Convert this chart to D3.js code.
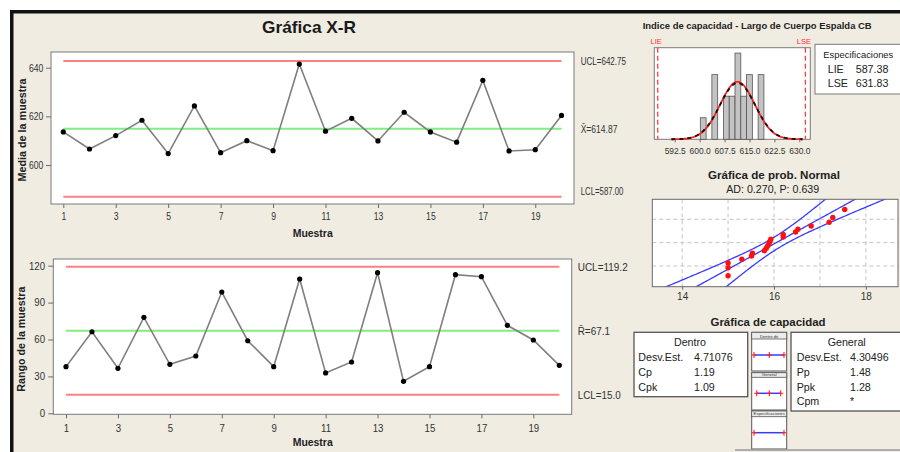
<!DOCTYPE html>
<html>
<head>
<meta charset="utf-8">
<script src="https://cdn.jsdelivr.net/npm/d3@7"></script>
<style>
  html, body { margin: 0; padding: 0; background: #ffffff; }
  svg { display: block; font-family: "Liberation Sans", Arial, sans-serif; }
</style>
</head>
<body>
<svg id="chart" width="900" height="452"></svg>
<script>
// ---------------- data ----------------
const samples = [1, 2, 3, 4, 5, 6, 7, 8, 9, 10, 11, 12, 13, 14, 15, 16, 17, 18, 19, 20];
const sampleTicks = [1, 3, 5, 7, 9, 11, 13, 15, 17, 19];

// subgroup means (X-bar chart)
const sampleMeans = [613.6, 606.6, 612.1, 618.4, 604.7, 624.3, 605.1, 610.0, 605.9, 641.5,
                     613.9, 619.2, 609.9, 621.7, 613.6, 609.4, 634.8, 605.8, 606.3, 620.4];
const xbarLimitNames = ["UCL=642.75", "X\u0304=614.87", "LCL=587.00"];
const xbarLimitValues = [642.75, 614.87, 587.00];
const xbarTicks = [600, 620, 640];

// subgroup ranges (R chart)
const sampleRanges = [37.9, 66.3, 36.6, 78.0, 39.8, 46.6, 98.6, 59.0, 37.9, 109.2,
                      32.8, 41.7, 114.3, 26.0, 37.9, 112.7, 111.1, 71.5, 59.6, 39.0];
const rLimitNames = ["UCL=119.2", "R\u0304=67.1", "LCL=15.0"];
const rLimitValues = [119.2, 67.1, 15.0];
const rTicks = [0, 30, 60, 90, 120];

// capability histogram
const histEdges = [600.2, 601.94, 603.68, 605.42, 607.16, 608.9, 610.64, 612.38, 614.12, 615.86, 617.6, 619.34];
const histCounts = [1, 0, 3, 0, 2, 2, 4, 2, 3, 0, 3];
const histTicks = [592.5, 600.0, 607.5, 615.0, 622.5, 630.0];
const specNames = ["LIE", "LSE"];
const specValues = [587.38, 631.83];
const fitMean = [611.4, 611.4];     // within (red), overall (black dashed)
const fitSd = [5.2, 5.3];

// normal probability plot
const probValues = [15.0, 15.0, 15.0, 15.3, 15.51, 15.53, 15.79, 15.83, 15.86, 15.89,
                    15.91, 15.93, 16.2, 16.2, 16.47, 16.52, 16.81, 17.2, 17.28, 17.54];
const probTicks = [14, 15, 16, 17, 18];
const probTickLabels = [14, 16, 18];
const probGridPct = [10, 50, 90];
const probFitMean = 16.05;
const probFitSd = 0.72;
const probBandHalf = 0.25;
const probStats = "AD: 0.270, P: 0.639";

// capability statistics
const withinLabels = ["Desv.Est.", "Cp", "Cpk"];
const withinValues = ["4.71076", "1.19", "1.09"];
const overallLabels = ["Desv.Est.", "Pp", "Ppk", "Cpm"];
const overallValues = ["4.30496", "1.48", "1.28", "*"];

// capability plot intervals
const capRows = ["Dentro de", "General", "Especificaciones"];
const capLow = [587.4, 591.4, 587.38];
const capMid = [610.1, 610.1, null];
const capHigh = [631.8, 626.9, 631.83];

// ---------------- helpers ----------------
const svg = d3.select("#chart");
const INK = "#222";

function label(g, x, y, s, o = {}) {
  const t = g.append("text")
    .attr("x", x).attr("y", y).text(s)
    .attr("font-size", o.size || 10.5)
    .attr("font-weight", o.bold ? "bold" : null)
    .attr("text-anchor", o.anchor || "start")
    .attr("fill", o.fill || INK);
  if (o.width) t.attr("textLength", o.width).attr("lengthAdjust", "spacingAndGlyphs");
  if (o.rotate) t.attr("transform", `rotate(-90,${x},${y})`);
  return t;
}

function styleAxis(sel, sx, size) {
  sel.select(".domain").remove();
  sel.selectAll(".tick line").attr("stroke", "#6a6a6a");
  sel.selectAll(".tick text")
    .attr("fill", "#333")
    .attr("font-size", size || 10.5)
    .attr("font-family", '"Liberation Sans", Arial, sans-serif')
    .attr("transform", `scale(${sx},1)`);
}

function qnorm(p) {
  const a = [-3.969683028665376e+01, 2.209460984245205e+02, -2.759285104469687e+02, 1.383577518672690e+02, -3.066479806614716e+01, 2.506628277459239e+00];
  const b = [-5.447609879822406e+01, 1.615858368580409e+02, -1.556989798598866e+02, 6.680131188771972e+01, -1.328068155288572e+01];
  const c = [-7.784894002430293e-03, -3.223964580411365e-01, -2.400758277161838e+00, -2.549732539343734e+00, 4.374664141464968e+00, 2.938163982698783e+00];
  const d = [7.784695709041462e-03, 3.224671290700398e-01, 2.445134137142996e+00, 3.754408661907416e+00];
  const pl = 0.02425, ph = 1 - pl;
  let q, r;
  if (p < pl) {
    q = Math.sqrt(-2 * Math.log(p));
    return (((((c[0]*q+c[1])*q+c[2])*q+c[3])*q+c[4])*q+c[5]) / ((((d[0]*q+d[1])*q+d[2])*q+d[3])*q+1);
  }
  if (p <= ph) {
    q = p - 0.5; r = q * q;
    return (((((a[0]*r+a[1])*r+a[2])*r+a[3])*r+a[4])*r+a[5])*q / (((((b[0]*r+b[1])*r+b[2])*r+b[3])*r+b[4])*r+1);
  }
  q = Math.sqrt(-2 * Math.log(1 - p));
  return -(((((c[0]*q+c[1])*q+c[2])*q+c[3])*q+c[4])*q+c[5]) / ((((d[0]*q+d[1])*q+d[2])*q+d[3])*q+1);
}

// ---------------- frame ----------------
svg.append("rect").attr("width", 900).attr("height", 452).attr("fill", "#ffffff");
svg.append("rect").attr("x", 10).attr("y", 10).attr("width", 890).attr("height", 442).attr("fill", "#111");
svg.append("rect").attr("x", 13.5).attr("y", 13.5).attr("width", 886.5).attr("height", 438.5).attr("fill", "#f0ece2");

label(svg, 309, 32.5, "Gráfica X-R", { size: 17, bold: true, anchor: "middle", width: 94, fill: "#1a1a1a" });

// ---------------- control chart drawer ----------------
function controlChart(box, xRange, yDomain, yRange, values, limitValues, limitNames, yTicks, o) {
  const g = svg.append("g");
  g.append("rect").attr("x", box.x).attr("y", box.y).attr("width", box.w).attr("height", box.h)
    .attr("fill", "#ffffff").attr("stroke", "#7a7a7a").attr("stroke-width", 1);

  const x = d3.scaleLinear().domain([samples[0], samples[samples.length - 1]]).range(xRange);
  const y = d3.scaleLinear().domain(yDomain).range(yRange);

  g.append("g").attr("transform", `translate(0,${box.y + box.h})`)
    .call(d3.axisBottom(x).tickValues(sampleTicks).tickSize(4).tickPadding(o.xPad))
    .call(styleAxis, o.sx);
  g.append("g").attr("transform", `translate(${box.x},0)`)
    .call(d3.axisLeft(y).tickValues(yTicks).tickSize(5).tickPadding(o.yPad))
    .call(styleAxis, o.sx);

  const x0 = x(samples[0]), x1 = x(samples[samples.length - 1]);
  const limitColors = ["#ff8080", "#80ee80", "#ff8080"];
  limitValues.forEach((v, i) => {
    g.append("line").attr("x1", x0).attr("x2", x1).attr("y1", y(v)).attr("y2", y(v))
      .attr("stroke", limitColors[i]).attr("stroke-width", 2);
    label(g, o.labelX, y(v) + 4 + o.labelDy[i], limitNames[i],
      { size: 10.5, width: o.labelW[i], fill: "#333" });
  });

  const line = d3.line().x((d, i) => x(samples[i])).y(d => y(d));
  g.append("path").datum(values).attr("d", line)
    .attr("fill", "none").attr("stroke", "#7f7f7f").attr("stroke-width", 1.6);
  g.selectAll("circle.pt").data(values).join("circle").attr("class", "pt")
    .attr("cx", (d, i) => x(samples[i])).attr("cy", d => y(d)).attr("r", 2.6).attr("fill", "#000");

  label(g, 312.7, o.titleY, "Muestra", { size: 10.5, bold: true, anchor: "middle", width: 40 });
  label(g, 25.5, box.y + box.h / 2 + o.yTitleDy, o.yTitle, { size: 10.5, bold: true, anchor: "middle", rotate: true, width: o.yTitleW });
}

controlChart({ x: 51, y: 52, w: 523, h: 152 }, [63.3, 561.5],
  [xbarLimitValues[2], xbarLimitValues[0]], [196.7, 61],
  sampleMeans, xbarLimitValues, xbarLimitNames, xbarTicks,
  { sx: 0.82, xPad: 5, yPad: 4.4, labelX: 580.7, labelDy: [0, 0, -6], labelW: [45.3, 36.7, 42.7],
    titleY: 236.5, yTitle: "Media de la muestra", yTitleW: 103, yTitleDy: 2 });

controlChart({ x: 53.3, y: 259, w: 518.4, h: 155.3 }, [66, 559.3],
  [0, rTicks[rTicks.length - 1]], [413.3, 265.7],
  sampleRanges, rLimitValues, rLimitNames, rTicks,
  { sx: 0.92, xPad: 6.5, yPad: 4, labelX: 577.7, labelDy: [0, 0, 0], labelW: [50, 32.3, 43],
    titleY: 445.5, yTitle: "Rango de la muestra", yTitleW: 105, yTitleDy: 2.5 });

// ---------------- capability histogram ----------------
{
  const g = svg.append("g");
  label(g, 642.7, 29, "Indice de capacidad - Largo de Cuerpo Espalda CB", { size: 9.5, bold: true, width: 229 });
  const box = { x: 654.3, y: 47.7, w: 156, h: 91.6 };
  g.append("rect").attr("x", box.x).attr("y", box.y).attr("width", box.w).attr("height", box.h)
    .attr("fill", "#fff").attr("stroke", "#7a7a7a");

  const x = d3.scaleLinear().domain([586.35, 633.3]).range([box.x, box.x + box.w]);
  const y = d3.scaleLinear().domain([0, 4.25]).range([box.y + box.h, box.y]);

  g.selectAll("rect.bar").data(histCounts).join("rect").attr("class", "bar")
    .attr("x", (d, i) => x(histEdges[i]))
    .attr("width", (d, i) => x(histEdges[i + 1]) - x(histEdges[i]))
    .attr("y", d => y(d)).attr("height", d => y(0) - y(d))
    .attr("fill", "#c3c3c3").attr("stroke", "#555").attr("stroke-width", 0.8)
    .attr("display", d => d > 0 ? null : "none");

  const n = d3.sum(histCounts);
  const w = histEdges[1] - histEdges[0];
  const xs = d3.range(591.5, 631.01, 0.25);
  const curveColors = ["#ff2020", "#111"];
  const curveDash = [null, "4,4"];
  [0, 1].forEach(k => {
    const pdf = v => n * w * Math.exp(-0.5 * ((v - fitMean[k]) / fitSd[k]) ** 2) / (fitSd[k] * Math.sqrt(2 * Math.PI));
    g.append("path").datum(xs)
      .attr("d", d3.line().x(v => x(v)).y(v => y(pdf(v))))
      .attr("fill", "none").attr("stroke", curveColors[k]).attr("stroke-width", 1.8)
      .attr("stroke-dasharray", curveDash[k]);
  });

  specValues.forEach((v, i) => {
    g.append("line").attr("x1", x(v)).attr("x2", x(v)).attr("y1", box.y).attr("y2", box.y + box.h)
      .attr("stroke", "#ff4040").attr("stroke-width", 1.3).attr("stroke-dasharray", "5,3");
    label(g, x(v) - 1.5, 44, specNames[i], { size: 7.5, anchor: "middle", fill: "#ff3030" });
  });

  g.append("g").attr("transform", `translate(0,${box.y + box.h})`)
    .call(d3.axisBottom(x).tickValues(histTicks).tickFormat(d3.format(".1f")).tickSize(3).tickPadding(4.5))
    .call(styleAxis, 0.88, 9.6);

  // specification box
  g.append("rect").attr("x", 815).attr("y", 44.3).attr("width", 86).attr("height", 49.7)
    .attr("fill", "#fff").attr("stroke", "#7a7a7a");
  label(g, 823.3, 57.5, "Especificaciones", { size: 9.4, width: 70 });
  specValues.forEach((v, i) => {
    label(g, 827.7, 72.5 + i * 14.7, specNames[i], { size: 10.7 });
    label(g, 855.7, 72.5 + i * 14.7, v.toFixed(2), { size: 10.7 });
  });
}

// ---------------- normal probability plot ----------------
{
  const g = svg.append("g");
  label(g, 774, 178.5, "Gráfica de prob. Normal", { size: 11, bold: true, anchor: "middle", width: 132 });
  label(g, 772.7, 193.3, probStats, { size: 10.5, anchor: "middle", width: 93 });

  const box = { x: 652.3, y: 199.3, w: 245.7, h: 87.4 };
  g.append("rect").attr("x", box.x).attr("y", box.y).attr("width", box.w).attr("height", box.h)
    .attr("fill", "#fff");
  g.append("clipPath").attr("id", "probClip").append("rect")
    .attr("x", box.x).attr("y", box.y).attr("width", box.w).attr("height", box.h);

  const x = d3.scaleLinear().domain([13.35, 18.7]).range([box.x, box.x + box.w]);
  const y = d3.scaleLinear().domain([-2.42, 2.38]).range([box.y + box.h, box.y]);

  const inner = g.append("g").attr("clip-path", "url(#probClip)");
  probTicks.forEach(t => {
    inner.append("line").attr("x1", x(t)).attr("x2", x(t)).attr("y1", box.y).attr("y2", box.y + box.h)
      .attr("stroke", "#c4c4c4").attr("stroke-dasharray", "4,3");
  });
  probGridPct.forEach(p => {
    const z = qnorm(p / 100);
    inner.append("line").attr("x1", box.x).attr("x2", box.x + box.w).attr("y1", y(z)).attr("y2", y(z))
      .attr("stroke", "#c4c4c4").attr("stroke-dasharray", "4,3");
  });

  const zs = d3.range(-2.8, 2.81, 0.05);
  const fitX = z => probFitMean + z * probFitSd;
  const half = z => probBandHalf * Math.sqrt(1 + z * z);
  [z => fitX(z) - half(z), fitX, z => fitX(z) + half(z)].forEach(f => {
    inner.append("path").datum(zs)
      .attr("d", d3.line().x(z => x(f(z))).y(z => y(z)))
      .attr("fill", "none").attr("stroke", "#3a3aff").attr("stroke-width", 1.3);
  });

  const m = probValues.length;
  const sorted = probValues.slice().sort(d3.ascending);
  inner.selectAll("circle").data(sorted).join("circle")
    .attr("cx", d => x(d))
    .attr("cy", (d, i) => y(qnorm((i + 1 - 0.3) / (m + 0.4))))
    .attr("r", 2.7).attr("fill", "#ff1010");

  g.append("rect").attr("x", box.x).attr("y", box.y).attr("width", box.w).attr("height", box.h)
    .attr("fill", "none").attr("stroke", "#6a6a6a");

  g.append("g").attr("transform", `translate(0,${box.y + box.h})`)
    .call(d3.axisBottom(x).tickValues(probTickLabels).tickFormat(d3.format("d")).tickSize(3).tickPadding(3.2))
    .call(styleAxis, 1, 10);
}

// ---------------- capability statistics and plot ----------------
{
  const g = svg.append("g");
  label(g, 768, 326, "Gráfica de capacidad", { size: 11, bold: true, anchor: "middle", width: 115 });

  // within box
  g.append("rect").attr("x", 634).attr("y", 332.3).attr("width", 113.7).attr("height", 64.4)
    .attr("fill", "#fff").attr("stroke", "#555").attr("stroke-width", 1.3);
  label(g, 690, 346, "Dentro", { size: 10.7, anchor: "middle" });
  withinLabels.forEach((s, i) => {
    label(g, 638.3, 361 + i * 14.8, s, { size: 10.7 });
    label(g, 694, 361 + i * 14.8, withinValues[i], { size: 10.7 });
  });

  // overall box
  g.append("rect").attr("x", 791).attr("y", 332.3).attr("width", 115).attr("height", 78.7)
    .attr("fill", "#fff").attr("stroke", "#555").attr("stroke-width", 1.3);
  label(g, 846.7, 346, "General", { size: 10.7, anchor: "middle" });
  overallLabels.forEach((s, i) => {
    label(g, 796.7, 361 + i * 14.8, s, { size: 10.7 });
    label(g, 850, 361 + i * 14.8, overallValues[i], { size: 10.7 });
  });

  // interval panels
  const xc = d3.scaleLinear().domain([specValues[0], specValues[1]]).range([754, 784]);
  const panels = [
    { top: 332.3, strip: 6.7, bottom: 371, lineY: 355 },
    { top: 372.7, strip: 4.6, bottom: 410, lineY: 393.3 },
    { top: 411, strip: 5.7, bottom: 449, lineY: 432.7 }
  ];
  panels.forEach((p, i) => {
    g.append("rect").attr("x", 751.7).attr("y", p.top).attr("width", 35).attr("height", p.bottom - p.top)
      .attr("fill", "#fff").attr("stroke", "#555").attr("stroke-width", 1);
    g.append("rect").attr("x", 751.7).attr("y", p.top).attr("width", 35).attr("height", p.strip)
      .attr("fill", "#ececec").attr("stroke", "#555").attr("stroke-width", 0.8);
    label(g, 769.2, p.top + p.strip - 1.5, capRows[i], { size: 4.2, anchor: "middle", fill: "#333" });

    g.append("line").attr("x1", xc(capLow[i])).attr("x2", xc(capHigh[i]))
      .attr("y1", p.lineY).attr("y2", p.lineY).attr("stroke", "#3a3aff").attr("stroke-width", 1.5);
    [capLow[i], capMid[i], capHigh[i]].filter(v => v !== null).forEach(v => {
      g.append("line").attr("x1", xc(v)).attr("x2", xc(v)).attr("y1", p.lineY - 3).attr("y2", p.lineY + 3)
        .attr("stroke", "#ff2020").attr("stroke-width", 1.1);
      g.append("line").attr("x1", xc(v) - 2.5).attr("x2", xc(v) + 2.5).attr("y1", p.lineY).attr("y2", p.lineY)
        .attr("stroke", "#ff2020").attr("stroke-width", 1.1);
    });
  });

  g.append("line").attr("x1", 735).attr("x2", 900).attr("y1", 450).attr("y2", 450)
    .attr("stroke", "#9a9a9a").attr("stroke-width", 1.5);
}
</script>
</body>
</html>
